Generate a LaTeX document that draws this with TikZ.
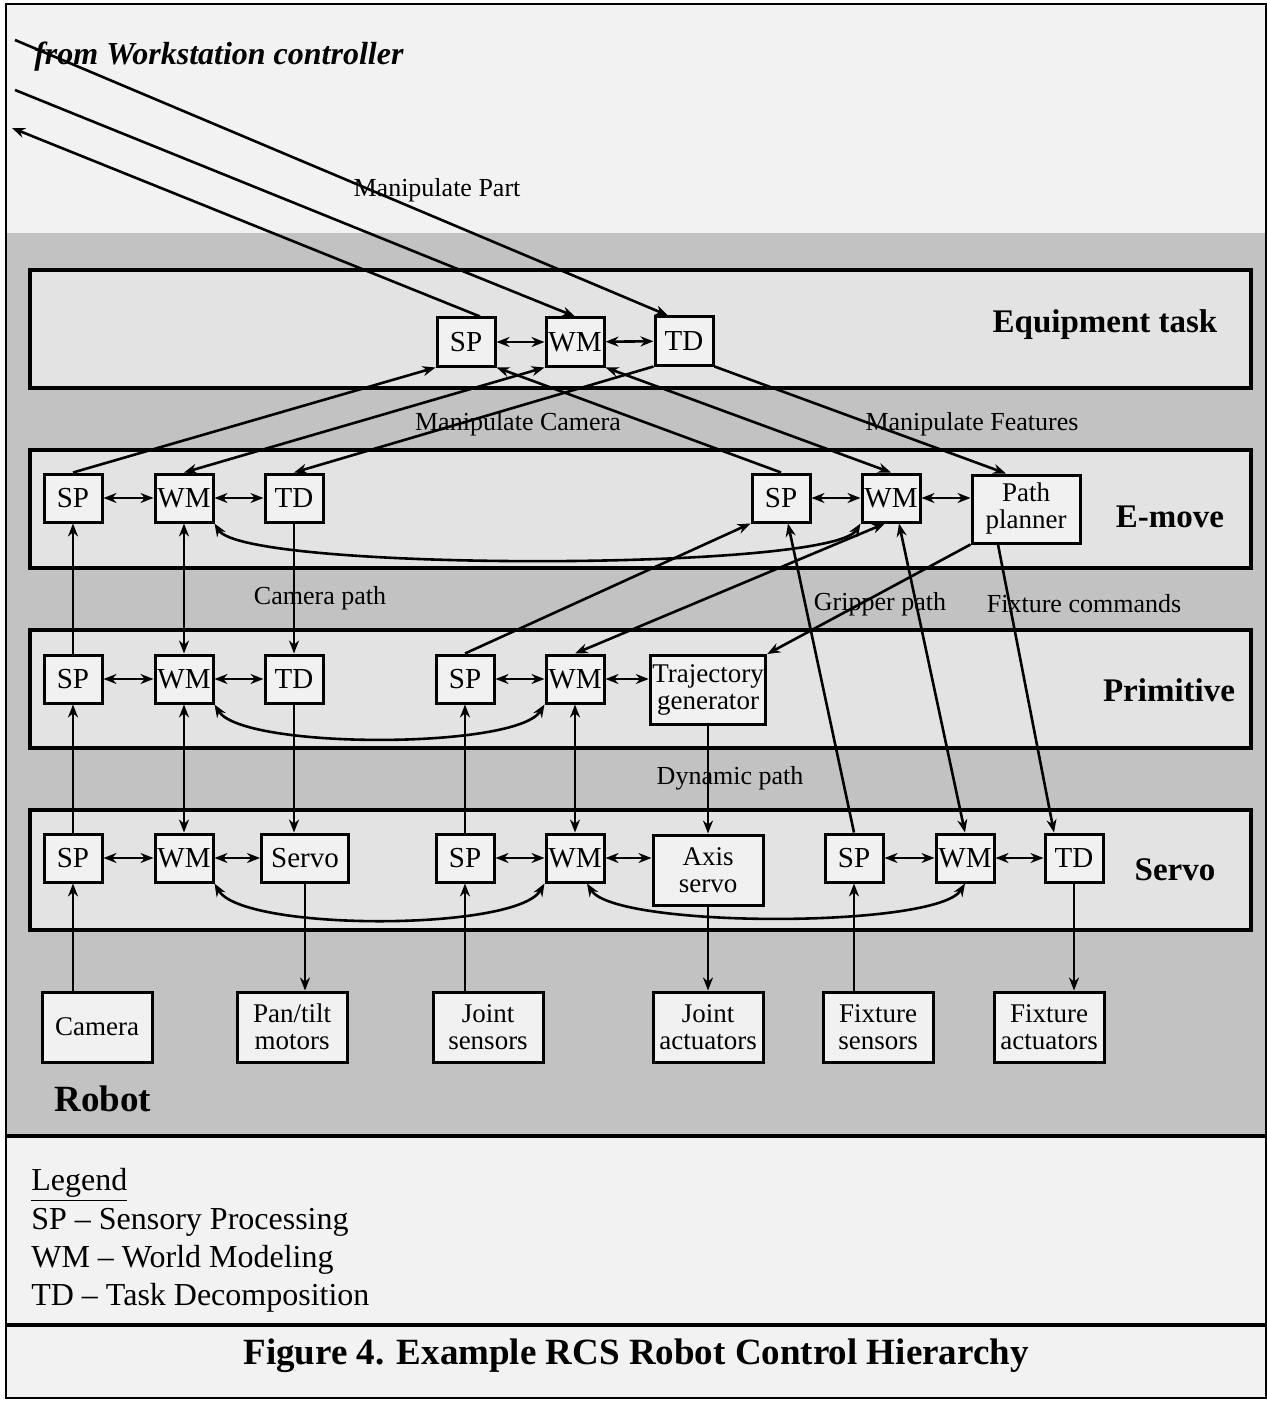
\documentclass[tikz,border=0pt]{standalone}
\usepackage{fontspec}
\setmainfont{Liberation Serif}
\usetikzlibrary{arrows.meta}
\definecolor{paperGray}{RGB}{242,242,242}
\definecolor{shadeGray}{RGB}{194,194,194}
\definecolor{bandGray}{RGB}{227,227,227}
\definecolor{boxGray}{RGB}{241,241,241}

\begin{document}
\begin{tikzpicture}[
    x=0.5pt, y=-0.5pt, line width=1.3pt,
    band/.style={draw, line width=1.8pt, fill=bandGray},
    blk/.style={rectangle, draw, line width=1.5pt, fill=boxGray, minimum width=29pt, minimum height=24pt, inner sep=1pt, align=center, font=\fontsize{14.5}{14}\selectfont},
    wideblk/.style={blk, minimum width=55pt, minimum height=35pt, font=\fontsize{13.5}{13.5}\selectfont},
    lvl/.style={font=\bfseries\fontsize{16.5}{18}\selectfont},
    lbl/.style={inner sep=1pt, font=\fontsize{13}{15}\selectfont},
    lgd/.style={anchor=west, inner sep=0pt, font=\fontsize{16}{18}\selectfont},
    >={Stealth[length=6.5pt,width=5pt]}
]
\useasboundingbox (0,0) rectangle (1267,1401);
\fill[white] (0,0) rectangle (1267,1401);
\fill[paperGray] (6,4) rectangle (1266,233);
\fill[shadeGray] (6,233) rectangle (1266,1136);
\fill[paperGray] (6,1136) rectangle (1266,1398);
\draw[line width=1.8pt] (6,1136) -- (1266,1136);
\draw[line width=1.8pt] (6,1325) -- (1266,1325);
\draw[line width=1.3pt] (6,4) rectangle (1266,1398);

\draw[band] (30,270) rectangle (1251,388);
\draw[band] (30,450) rectangle (1251,568);
\draw[band] (30,630) rectangle (1251,748);
\draw[band] (30,810) rectangle (1251,930);

\node[lvl] (eqlab) at (1105,325) {Equipment task};
\node[lvl] (emlab) at (1170,517) {E-move};
\node[lvl] (prlab) at (1169,690) {Primitive};
\node[lvl] (svlab) at (1175,870) {Servo};
\node[lvl, font=\bfseries\fontsize{18.5}{20}\selectfont] (robot) at (103,1099) {Robot};

% equipment task
\node[blk] (qsp) at (466,342) {SP};
\node[blk] (qwm) at (575,342) {WM};
\node[blk] (qtd) at (684,341) {TD};

% e-move
\node[blk] (esp1) at (73,498) {SP};
\node[blk] (ewm1) at (184,498) {WM};
\node[blk] (etd1) at (294,498) {TD};
\node[blk] (esp2) at (781,498) {SP};
\node[blk] (ewm2) at (891,498) {WM};
\node[wideblk, minimum width=54pt, minimum height=34pt] (epp) at (1026,509) {Path\\planner};

% primitive
\node[blk] (psp1) at (73,679) {SP};
\node[blk] (pwm1) at (184,679) {WM};
\node[blk] (ptd1) at (294,679) {TD};
\node[blk] (psp2) at (465,679) {SP};
\node[blk] (pwm2) at (575,679) {WM};
\node[wideblk, minimum height=34.5pt] (ptg) at (708,690) {Trajectory\\generator};

% servo
\node[blk] (ssp1) at (73,858) {SP};
\node[blk] (swm1) at (184,858) {WM};
\node[blk, minimum width=43.5pt] (ssv) at (305,858) {Servo};
\node[blk] (ssp2) at (465,858) {SP};
\node[blk] (swm2) at (575,858) {WM};
\node[wideblk] (sax) at (708,870) {Axis\\servo};
\node[blk] (ssp3) at (854,858) {SP};
\node[blk] (swm3) at (965,858) {WM};
\node[blk] (std) at (1074,858) {TD};

% robot
\node[wideblk] (cam) at (97,1027) {Camera};
\node[wideblk] (pan) at (292,1027) {Pan/tilt\\motors};
\node[wideblk] (jsen) at (488,1027) {Joint\\sensors};
\node[wideblk] (jact) at (708,1027) {Joint\\actuators};
\node[wideblk] (fsen) at (878,1027) {Fixture\\sensors};
\node[wideblk] (fact) at (1049,1027) {Fixture\\actuators};

% from workstation
\node[anchor=west, inner sep=0pt, font=\bfseries\itshape\fontsize{16}{18}\selectfont] (wsc) at (33,57) {from Workstation controller};
\coordinate (wsin1) at (15,40);
\coordinate (wsin2) at (15,90);
\coordinate (wsout) at (12,128);
\draw[->] (wsin1) -- ([xshift=-8pt]qtd.north);
\draw[->] (wsin2) -- (qwm.north);
\draw[->] ([xshift=7pt]qsp.north) -- (wsout);

% same level
\draw[<->] (qsp) -- (qwm);
\draw[<->] (qwm) -- (qtd);
\draw[<->] (esp1) -- (ewm1);
\draw[<->] (ewm1) -- (etd1);
\draw[<->] (esp2) -- (ewm2);
\draw[<->] (ewm2.east) -- (ewm2.east -| epp.west);
\draw[<->] (psp1) -- (pwm1);
\draw[<->] (pwm1) -- (ptd1);
\draw[<->] (psp2) -- (pwm2);
\draw[<->] (pwm2.east) -- (pwm2.east -| ptg.west);
\draw[<->] (ssp1) -- (swm1);
\draw[<->] (swm1) -- (ssv);
\draw[<->] (ssp2) -- (swm2);
\draw[<->] (swm2.east) -- (swm2.east -| sax.west);
\draw[<->] (ssp3) -- (swm3);
\draw[<->] (swm3) -- (std);

\draw[<->] (ewm1.south east) .. controls +(30,48) and +(-30,48) .. (ewm2.south west);
\draw[<->] (pwm1.south east) .. controls +(28,45) and +(-28,45) .. (pwm2.south west);
\draw[<->] (swm1.south east) .. controls +(28,48) and +(-28,48) .. (swm2.south west);
\draw[<->] ([xshift=6pt]swm2.south) .. controls +(28,45) and +(-28,45) .. (swm3.south);

% equipment task / e-move
\draw[->] (esp1.north) -- (qsp.south west);
\draw[<->] (ewm1.north) -- (qwm.south west);
\draw[->] (qtd.south west) -- (etd1.north);
\draw[->] (esp2.north) -- (qsp.south east);
\draw[<->] (qwm.south east) -- (ewm2.north);
\draw[->] (qtd.south east) -- ([xshift=-10pt]epp.north);

% e-move / primitive
\draw[->] (psp1) -- (esp1);
\draw[<->] (ewm1) -- (pwm1);
\draw[->] (etd1) -- (ptd1);
\draw[->] (psp2.north) -- (esp2.south west);
\draw[<->] (pwm2.north) -- ([xshift=-3pt]ewm2.south);
\draw[->] (epp.south west) -- (ptg.north east);
\draw[->] (ssp3.north) -- ([xshift=3.5pt]esp2.south);
\draw[<->] (swm3.north) -- ([xshift=4pt]ewm2.south);
\draw[->] ([xshift=-14pt]epp.south) -- ([xshift=-10pt]std.north);

% primitive / servo
\draw[->] (ssp1) -- (psp1);
\draw[<->] (pwm1) -- (swm1);
\draw[->] (ptd1.south) -- (ptd1.south |- ssv.north);
\draw[->] (ssp2) -- (psp2);
\draw[<->] (pwm2) -- (swm2);
\draw[->] (ptg) -- (sax);

% servo / robot
\draw[->] (cam.north -| ssp1.south) -- (ssp1.south);
\draw[->] (ssv.south) -- (ssv.south |- pan.north);
\draw[->] (jsen.north -| ssp2.south) -- (ssp2.south);
\draw[->] (sax.south) -- (sax.south |- jact.north);
\draw[->] (fsen.north -| ssp3.south) -- (ssp3.south);
\draw[->] (std.south) -- (std.south |- fact.north);

\node[lbl] (mpart) at (437,190) {Manipulate Part};
\node[lbl] (mcam) at (518,424) {Manipulate Camera};
\node[lbl] (mfeat) at (972,424) {Manipulate Features};
\node[lbl] (campath) at (320,598) {Camera path};
\node[lbl] (gpath) at (880,604) {Gripper path};
\node[lbl] (fcmd) at (1084,604) {Fixture commands};
\node[lbl] (dpath) at (730,778) {Dynamic path};

\node[lgd] (lg0) at (30,1185) {\underline{Legend}};
\node[lgd] (lg1) at (30,1222) {SP -- Sensory Processing};
\node[lgd] (lg2) at (30,1260) {WM -- World Modeling};
\node[lgd] (lg3) at (30,1298) {TD -- Task Decomposition};

\node[font=\bfseries\fontsize{18.5}{20}\selectfont] (cap) at (636,1356) {Figure 4. Example RCS Robot Control Hierarchy};
\end{tikzpicture}
\end{document}
